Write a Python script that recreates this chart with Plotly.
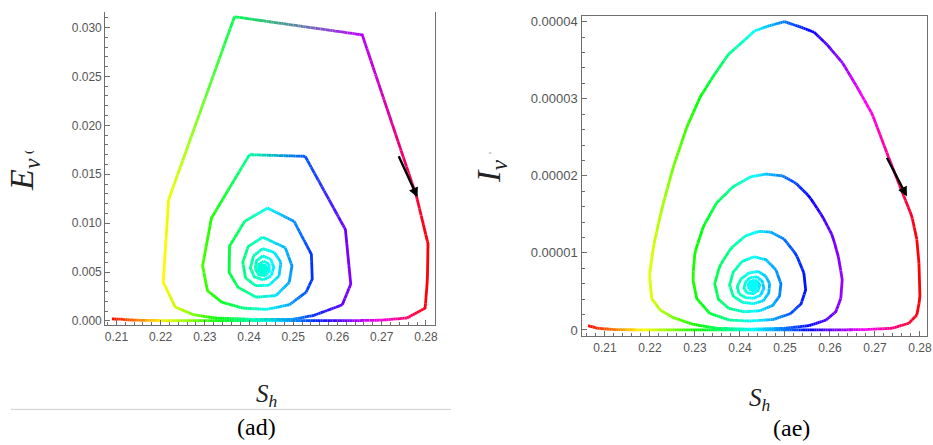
import math
import colorsys
import plotly.graph_objects as go

# ---------------- data ----------------
ad_S = [0.2090, 0.2110, 0.2130, 0.2160, 0.2200, 0.2250, 0.2300, 0.2350, 0.2400, 0.2450,
        0.2500, 0.2550, 0.2600, 0.2650, 0.2700, 0.2757, 0.2798, 0.2802, 0.2806, 0.2779,
        0.2656, 0.2367, 0.2218, 0.2206, 0.2233, 0.2274, 0.2323, 0.2410, 0.2499, 0.2547,
        0.2611, 0.2630, 0.2618, 0.2527, 0.2401, 0.2315, 0.2295, 0.2306, 0.2338, 0.2386,
        0.2439, 0.2491, 0.2529, 0.2543, 0.2541, 0.2502, 0.2442, 0.2390, 0.2356, 0.2355,
        0.2375, 0.2416, 0.2461, 0.2491, 0.2497, 0.2482, 0.2431, 0.2398, 0.2386, 0.2392,
        0.2415, 0.2445, 0.2468, 0.2472, 0.2457, 0.2431, 0.2410, 0.2403, 0.2412, 0.2432,
        0.2450, 0.2456, 0.2449, 0.2431, 0.2417, 0.2414, 0.2422, 0.2436, 0.2446, 0.2445,
        0.2433, 0.2422, 0.2422, 0.2431, 0.2439, 0.2436, 0.2428, 0.2431]
ad_E = [0.00020, 0.00018, 0.00010, 0.00006, 0.00004, 0.00003, 0.00003, 0.00003, 0.00003, 0.00003,
        0.00003, 0.00003, 0.00003, 0.00004, 0.00008, 0.00030, 0.00130, 0.00290, 0.00765, 0.01270,
        0.02925, 0.03110, 0.01238, 0.00395, 0.00142, 0.00064, 0.00030, 0.00016, 0.00016, 0.00057,
        0.00165, 0.00377, 0.00934, 0.01683, 0.01700, 0.01052, 0.00563, 0.00310, 0.00192, 0.00131,
        0.00118, 0.00165, 0.00293, 0.00428, 0.00681, 0.01018, 0.01154, 0.01018, 0.00765, 0.00496,
        0.00344, 0.00243, 0.00259, 0.00395, 0.00563, 0.00749, 0.00856, 0.00760, 0.00600, 0.00440,
        0.00360, 0.00365, 0.00460, 0.00600, 0.00700, 0.00740, 0.00665, 0.00540, 0.00450, 0.00420,
        0.00460, 0.00550, 0.00630, 0.00665, 0.00615, 0.00535, 0.00472, 0.00462, 0.00510, 0.00580,
        0.00612, 0.00575, 0.00520, 0.00493, 0.00525, 0.00565, 0.00560, 0.00530]
ad_eq = [0.2431, 0.0053]

ae_S = [0.20625, 0.2083, 0.2120, 0.2170, 0.2220, 0.2270, 0.2320, 0.2370, 0.2420, 0.2470,
        0.2520, 0.2570, 0.2620, 0.2679, 0.2738, 0.2775, 0.2793, 0.2800, 0.27983, 0.2793,
        0.2782, 0.2760, 0.2730, 0.2694, 0.2661, 0.2628, 0.2594, 0.2565, 0.2532, 0.2499,
        0.2466, 0.2432, 0.2407, 0.2374, 0.2341, 0.2311, 0.2282, 0.2252, 0.2226, 0.2208,
        0.2199, 0.2204, 0.2223, 0.2252, 0.2296, 0.2348, 0.2421, 0.2502, 0.2554, 0.2591,
        0.2613, 0.2624, 0.2628, 0.2620, 0.2606, 0.2583, 0.2554, 0.2524, 0.2495, 0.2458,
        0.2425, 0.2385, 0.2348, 0.2319, 0.2300, 0.2295, 0.2304, 0.2333, 0.2377, 0.2421,
        0.2473, 0.2512, 0.2536, 0.2546, 0.2542, 0.2525, 0.2498, 0.2468, 0.2442, 0.2412,
        0.2380, 0.2355, 0.2344, 0.2352, 0.2375, 0.2410, 0.2445, 0.2473, 0.2488, 0.2491,
        0.2480, 0.2458, 0.2432, 0.2405, 0.2385, 0.2377, 0.2385, 0.2405, 0.2430, 0.2452,
        0.2464, 0.2466, 0.2457, 0.2440, 0.2420, 0.2402, 0.2394, 0.2398, 0.2412, 0.2430,
        0.2446, 0.2453, 0.2450, 0.2438, 0.2423, 0.2412, 0.2409, 0.2416, 0.2429, 0.2440,
        0.2444, 0.2438, 0.2427, 0.2419, 0.2420, 0.2429, 0.2437, 0.2435, 0.2428, 0.2423,
        0.2428, 0.2431]
ae_I = [5.6e-7, 2.2e-7, 0.5e-7, 0.2e-7, 0.1e-7, 0.1e-7, 0.1e-7, 0.1e-7, 0.1e-7, 0.1e-7,
        0.1e-7, 0.1e-7, 0.1e-7, 0.5e-7, 2.2e-7, 8.6e-7, 1.93e-6, 4.07e-6, 8.34e-6, 1.177e-5,
        1.476e-5, 1.797e-5, 2.246e-5, 2.80e-5, 3.145e-5, 3.466e-5, 3.70e-5, 3.864e-5, 3.937e-5, 4.001e-5,
        3.95e-5, 3.88e-5, 3.745e-5, 3.574e-5, 3.295e-5, 3.017e-5, 2.632e-5, 2.118e-5, 1.562e-5, 1.091e-5,
        7.06e-6, 4.07e-6, 2.57e-6, 1.59e-6, 7.3e-7, 2.2e-7, 1.0e-7, 2.2e-7, 5.6e-7, 1.28e-6,
        2.36e-6, 4.07e-6, 6.21e-6, 9.2e-6, 1.22e-5, 1.476e-5, 1.733e-5, 1.905e-5, 1.999e-5, 2.024e-5,
        1.99e-5, 1.861e-5, 1.648e-5, 1.348e-5, 1.006e-5, 6.64e-6, 4.07e-6, 2.14e-6, 1.28e-6, 1.16e-6,
        1.35e-6, 2.1e-6, 3.4e-6, 5.2e-6, 7.4e-6, 9.8e-6, 1.18e-5, 1.27e-5, 1.28e-5, 1.22e-5,
        1.06e-5, 8.3e-6, 6.0e-6, 4.0e-6, 2.8e-6, 2.35e-6, 2.5e-6, 3.2e-6, 4.4e-6, 6.0e-6,
        7.8e-6, 9.1e-6, 9.5e-6, 8.9e-6, 7.5e-6, 5.8e-6, 4.4e-6, 3.6e-6, 3.4e-6, 3.8e-6,
        4.8e-6, 6.0e-6, 7.0e-6, 7.6e-6, 7.4e-6, 6.6e-6, 5.6e-6, 4.7e-6, 4.2e-6, 4.1e-6,
        4.5e-6, 5.4e-6, 6.3e-6, 6.9e-6, 6.8e-6, 6.2e-6, 5.4e-6, 4.8e-6, 4.7e-6, 5.1e-6,
        5.8e-6, 6.4e-6, 6.4e-6, 5.9e-6, 5.3e-6, 5.1e-6, 5.5e-6, 6.0e-6, 6.1e-6, 5.7e-6,
        5.5e-6, 5.8e-6]
ae_eq = [0.2428, 5.8e-6]

ad_arrow_S = [0.2737, 0.2781]
ad_arrow_E = [0.0170, 0.01265]
ae_arrow_S = [0.2725, 0.2771]
ae_arrow_I = [2.255e-5, 1.733e-5]

x_tick_vals = [0.21, 0.22, 0.23, 0.24, 0.25, 0.26, 0.27, 0.28]
x_tick_text = ["0.21", "0.22", "0.23", "0.24", "0.25", "0.26", "0.27", "0.28"]
ad_y_vals = [0.0, 0.005, 0.010, 0.015, 0.020, 0.025, 0.030]
ad_y_text = ["0.000", "0.005", "0.010", "0.015", "0.020", "0.025", "0.030"]
ae_y_vals = [0.0, 1e-5, 2e-5, 3e-5, 4e-5]
ae_y_text = ["0", "0.00001", "0.00002", "0.00003", "0.00004"]

# ---------------- layout geometry ----------------
W, H = 933, 445
ad_xrange = [0.2075, 0.2821]
ad_yrange = [-0.00045, 0.0316]
ae_xrange = [0.2048, 0.2815]
ae_yrange = [-0.085e-5, 4.073e-5]
ad_dom_x = [105 / W, 437 / W]
ad_dom_y = [1 - 327 / H, 1 - 10 / H]
ae_dom_x = [584.3 / W, 931.7 / W]
ae_dom_y = [1 - 338.3 / H, 1 - 14.3 / H]


def hue_rgb(h):
    r, g, b = colorsys.hsv_to_rgb(h % 1.0 if h < 1 else 0.9999, 1, 1)
    return (r * 255, g * 255, b * 255)


def gradient_traces(xs, ys, xref, yref, xr, yr, dx, dy, mode, width=2.8):
    xmin, xmax = min(xs), max(xs)
    sx = (dx[1] - dx[0]) * W / (xr[1] - xr[0])
    sy = (dy[1] - dy[0]) * H / (yr[1] - yr[0])
    vcol = [hue_rgb((x - xmin) / (xmax - xmin)) for x in xs]
    groups = {}
    last_key = None
    for i in range(len(xs) - 1):
        x0, y0, x1, y1 = xs[i], ys[i], xs[i + 1], ys[i + 1]
        L = math.hypot((x1 - x0) * sx, (y1 - y0) * sy)
        n = max(1, int(math.ceil(L / 2.5)))
        for k in range(n):
            t0, t1 = k / n, (k + 1) / n
            tm = (t0 + t1) / 2
            if mode == "rgb":
                c = tuple(vcol[i][j] + (vcol[i + 1][j] - vcol[i][j]) * tm for j in range(3))
            else:
                xm = x0 + (x1 - x0) * tm
                c = hue_rgb((xm - xmin) / (xmax - xmin))
            key = tuple(int(round(v / 10.0) * 10) for v in c)
            key = tuple(min(255, v) for v in key)
            pa = (x0 + (x1 - x0) * t0, y0 + (y1 - y0) * t0)
            pb = (x0 + (x1 - x0) * t1, y0 + (y1 - y0) * t1)
            g = groups.setdefault(key, ([], []))
            if key == last_key:
                g[0].append(pb[0]); g[1].append(pb[1])
            else:
                if g[0]:
                    g[0].append(None); g[1].append(None)
                g[0].extend([pa[0], pb[0]]); g[1].extend([pa[1], pb[1]])
            last_key = key
    traces = []
    for key, (gx, gy) in groups.items():
        traces.append(go.Scatter(x=gx, y=gy, mode="lines", xaxis=xref, yaxis=yref,
                                 line=dict(color="rgb(%d,%d,%d)" % key, width=width),
                                 hoverinfo="skip", showlegend=False))
    return traces


fig = go.Figure()

for t in gradient_traces(ad_S, ad_E, "x", "y", ad_xrange, ad_yrange, ad_dom_x, ad_dom_y, "rgb"):
    fig.add_trace(t)
for t in gradient_traces(ae_S, ae_I, "x2", "y2", ae_xrange, ae_yrange, ae_dom_x, ae_dom_y, "hue"):
    fig.add_trace(t)

# equilibrium blobs
h_ad = (ad_eq[0] - min(ad_S)) / (max(ad_S) - min(ad_S))
h_ae = (ae_eq[0] - min(ae_S)) / (max(ae_S) - min(ae_S))
fig.add_trace(go.Scatter(x=[ad_eq[0]], y=[ad_eq[1]], mode="markers", xaxis="x", yaxis="y",
                         marker=dict(size=11, color="rgb(%d,%d,%d)" % hue_rgb(h_ad)),
                         hoverinfo="skip", showlegend=False))
fig.add_trace(go.Scatter(x=[ae_eq[0]], y=[ae_eq[1]], mode="markers", xaxis="x2", yaxis="y2",
                         marker=dict(size=11, color="rgb(%d,%d,%d)" % hue_rgb(h_ae)),
                         hoverinfo="skip", showlegend=False))

axis_line = "#6e6e6e"
tick_font = dict(family="Liberation Sans", size=12, color="#555555")

common = dict(showgrid=False, zeroline=False, showline=True, linecolor=axis_line, linewidth=1.3,
              ticks="inside", ticklen=5, tickwidth=1, tickcolor=axis_line,
              ticklabeloverflow="allow")

fig.update_layout(
    width=W, height=H, autosize=False,
    margin=dict(l=0, r=0, t=0, b=0),
    paper_bgcolor="white", plot_bgcolor="white",
    xaxis=dict(domain=ad_dom_x, range=ad_xrange, anchor="y", tickvals=x_tick_vals, ticktext=x_tick_text,
               tickfont=tick_font,
               minor=dict(ticks="inside", ticklen=3, dtick=0.002, tick0=0.21, tickcolor=axis_line),
               **common),
    yaxis=dict(domain=ad_dom_y, range=ad_yrange, anchor="x", tickvals=ad_y_vals, ticktext=ad_y_text,
               mirror=True, tickfont=tick_font,
               minor=dict(ticks="inside", ticklen=3, dtick=0.001, tick0=0, tickcolor=axis_line),
               **common),
    xaxis2=dict(domain=ae_dom_x, range=ae_xrange, anchor="y2", tickvals=x_tick_vals, ticktext=x_tick_text,
                mirror=True, tickfont=tick_font,
                minor=dict(ticks="inside", ticklen=3, dtick=0.002, tick0=0.21, tickcolor=axis_line),
                **common),
    yaxis2=dict(domain=ae_dom_y, range=ae_yrange, anchor="x2", tickvals=ae_y_vals, ticktext=ae_y_text,
                mirror=True, tickfont=dict(family="Liberation Sans", size=13, color="#555555"),
                minor=dict(ticks="inside", ticklen=3, dtick=2e-6, tick0=0, tickcolor=axis_line),
                **common),
)

# arrows
fig.add_annotation(x=ad_arrow_S[1], y=ad_arrow_E[1], ax=ad_arrow_S[0], ay=ad_arrow_E[0],
                   xref="x", yref="y", axref="x", ayref="y", text="", showarrow=True,
                   arrowhead=2, arrowsize=0.8, arrowwidth=2.4, arrowcolor="black")
fig.add_annotation(x=ae_arrow_S[1], y=ae_arrow_I[1], ax=ae_arrow_S[0], ay=ae_arrow_I[0],
                   xref="x2", yref="y2", axref="x2", ayref="y2", text="", showarrow=True,
                   arrowhead=2, arrowsize=0.8, arrowwidth=2.4, arrowcolor="black")

serif = "Times New Roman, DejaVu Serif"
title_col = "#222222"


def label(px, py, text, size, color=title_col, angle=0):
    fig.add_annotation(x=px / W, y=1 - py / H, xref="paper", yref="paper", showarrow=False,
                       xanchor="center", yanchor="middle", text=text, textangle=angle,
                       font=dict(family=serif, size=size, color=color))


# axis titles
label(23, 174, "<i>E</i><sub><i>v</i></sub>", 34, angle=-90)
label(27, 152, "<b>(</b>", 11, angle=-90)
label(493, 171, "<i>I</i><sub><i>v</i></sub>", 34, angle=-90)
label(494, 153, "'", 11, color="#888888", angle=-90)
label(268, 398, "<i>S</i><sub><i>h</i></sub>", 25)
label(764, 402, "<i>S</i><sub><i>h</i></sub>", 25)
# captions
label(257, 430, "(ad)", 24, color="black")
label(796, 431, "(ae)", 24, color="black")

# separator line under left panel
fig.add_shape(type="line", xref="paper", yref="paper", x0=10 / W, x1=453 / W,
              y0=1 - 412 / H, y1=1 - 412 / H, line=dict(color="#cfcfcf", width=1))

fig.write_html("out.html")
